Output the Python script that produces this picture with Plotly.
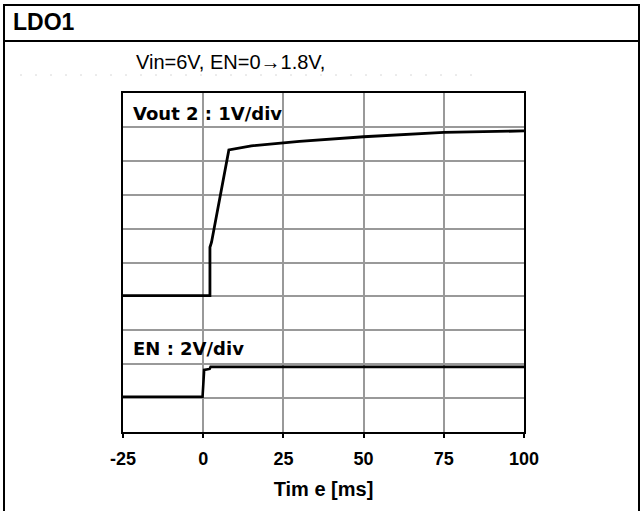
import plotly.graph_objects as go

# Data (time in ms, values in screen divisions)
vout_t = [-25, -10, 2.1, 2.1, 2.6, 8.0, 15, 30, 50, 75, 100]
vout_v = [4.02, 4.02, 4.02, 5.45, 5.6, 8.32, 8.44, 8.57, 8.71, 8.84, 8.88]
en_t = [-25, -10, -0.2, 0.3, 2.0, 2.3, 50, 100]
en_v = [1.04, 1.04, 1.04, 1.83, 1.86, 1.92, 1.92, 1.92]
x_ticks = [-25, 0, 25, 50, 75, 100]
x_labels = ["-25", "0", "25", "50", "75", "100"]

W, H = 641, 511
L, R, T, B = 123, 524, 93, 432

def px(x):
    return (x - L) / (R - L)

def py(y):
    return (B - y) / (B - T)

fig = go.Figure()
fig.add_trace(go.Scatter(x=vout_t, y=vout_v, mode="lines",
                         line=dict(color="black", width=2.8), showlegend=False))
fig.add_trace(go.Scatter(x=en_t, y=en_v, mode="lines",
                         line=dict(color="black", width=2.6), showlegend=False))

fig.update_layout(
    width=W, height=H,
    margin=dict(l=L, r=W - R, t=T, b=H - B),
    paper_bgcolor="white", plot_bgcolor="white",
    font=dict(family="Liberation Sans, Arial", color="black"),
    xaxis=dict(range=[-25, 100], tickvals=x_ticks, ticktext=x_labels,
               showgrid=True, gridcolor="#999999", gridwidth=2,
               showline=True, linecolor="black", linewidth=2, mirror=True,
               ticks="outside", ticklen=4, tickcolor="black", tickwidth=2,
               ticklabelstandoff=5,
               tickfont=dict(size=18, family="Liberation Sans, Arial", weight="bold"),
               title=dict(text="<b>Tim e [ms]</b>", font=dict(size=20), standoff=14),
               zeroline=False, fixedrange=True),
    yaxis=dict(range=[0, 10], dtick=1, showticklabels=False,
               showgrid=True, gridcolor="#999999", gridwidth=2,
               showline=True, linecolor="black", linewidth=2, mirror=True,
               ticks="", zeroline=False, fixedrange=True),
)

shapes = [
    # outer frame
    dict(type="line", xref="paper", yref="paper", x0=px(4), x1=px(4), y0=py(4), y1=py(511),
         line=dict(color="black", width=2)),
    dict(type="line", xref="paper", yref="paper", x0=px(3), x1=px(640), y0=py(5), y1=py(5),
         line=dict(color="black", width=2)),
    dict(type="line", xref="paper", yref="paper", x0=px(639), x1=px(639), y0=py(4), y1=py(511),
         line=dict(color="black", width=2)),
    dict(type="line", xref="paper", yref="paper", x0=px(3), x1=px(640), y0=py(41), y1=py(41),
         line=dict(color="black", width=2)),
    # faint dotted rule
    dict(type="line", xref="paper", yref="paper", x0=px(20), x1=px(475), y0=py(75), y1=py(75),
         line=dict(color="#d8d8d8", width=1, dash="2px,13px")),
]
fig.update_layout(shapes=shapes)

annotations = [
    dict(text="<b>LDO1</b>", xref="paper", yref="paper", x=px(11), y=py(22),
         xanchor="left", yanchor="middle", showarrow=False,
         font=dict(size=23, family="Liberation Sans, Arial")),
    dict(text="Vin=6V, EN=0→1.8V,", xref="paper", yref="paper", x=px(134), y=py(62),
         xanchor="left", yanchor="middle", showarrow=False,
         font=dict(size=20, family="Liberation Sans, Arial")),
    dict(text="<b>Vout 2 : 1V/div</b>", xref="paper", yref="paper", x=px(131), y=py(113),
         xanchor="left", yanchor="middle", showarrow=False,
         font=dict(size=18, family="DejaVu Sans")),
    dict(text="<b>EN : 2V/div</b>", xref="paper", yref="paper", x=px(131), y=py(348),
         xanchor="left", yanchor="middle", showarrow=False,
         font=dict(size=18, family="DejaVu Sans")),
]
fig.update_layout(annotations=annotations)

fig.write_html("out.html")
